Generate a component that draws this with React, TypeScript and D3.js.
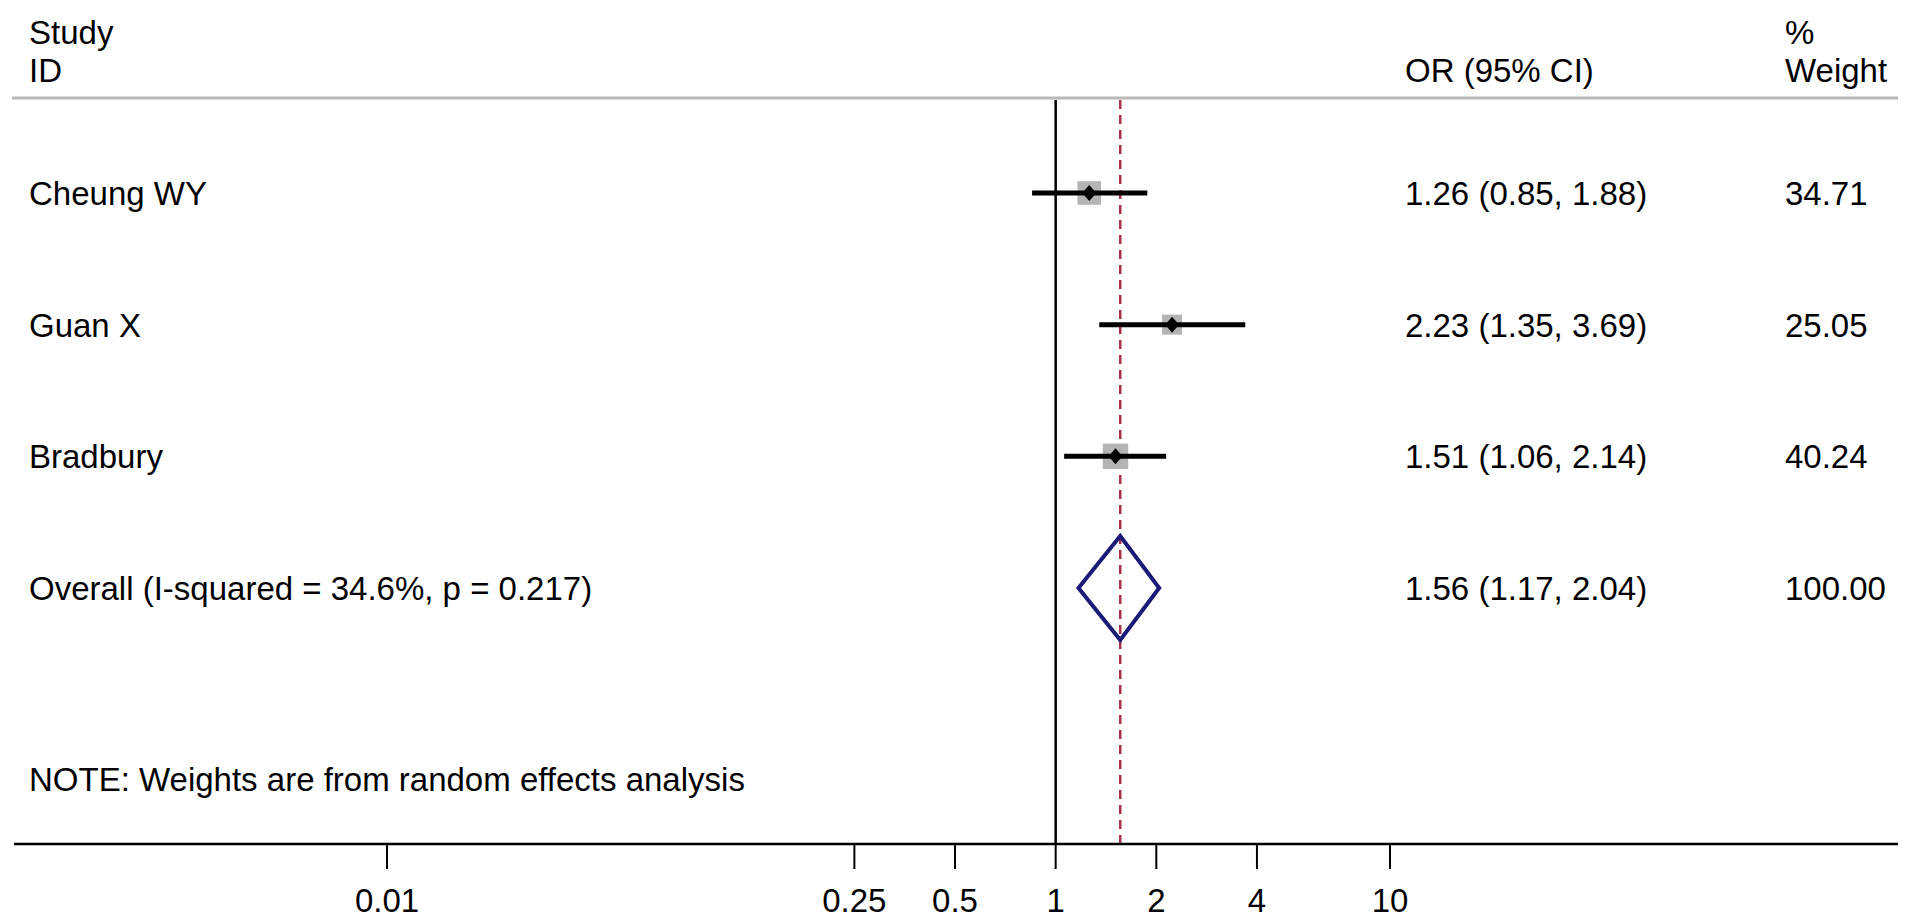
import { useEffect, useRef } from 'react'
import * as d3 from 'd3'

const studies = ['Cheung WY', 'Guan X', 'Bradbury']
const estimates = [1.26, 2.23, 1.51]
const lowers = [0.85, 1.35, 1.06]
const uppers = [1.88, 3.69, 2.14]
const weights = [34.71, 25.05, 40.24]

const overallLabel = 'Overall (I-squared = 34.6%, p = 0.217)'
const overall = { est: 1.56, lo: 1.17, hi: 2.04, weight: 100 }

const tickValues = [0.01, 0.25, 0.5, 1, 2, 4, 10]
const tickLabels = ['0.01', '0.25', '0.5', '1', '2', '4', '10']

const note = 'NOTE: Weights are from random effects analysis'

export default function App() {
  const svgRef = useRef<SVGSVGElement>(null)
  const W = 1913
  const H = 920

  useEffect(() => {
    const svg = svgRef.current
    if (!svg) return
    d3.select(svg).selectAll('*').remove()

    const font = '"Liberation Sans", Arial, Helvetica, sans-serif'
    const fs = 33
    const g = d3.select(svg).attr('width', W).attr('height', H)
      .style('font-family', font).style('font-size', `${fs}px`)

    const x = d3.scaleLog().domain([0.01, 10]).range([387, 1390])
    // row index -> vertical centre
    const y = d3.scaleLinear().domain([0, 3]).range([193, 588])

    const colText = 29
    const colEst = 1405
    const colWt = 1785
    const headerY = 98
    const axisY = 844
    const half = fs * 0.36

    // header
    g.append('text').attr('x', colText).attr('y', 44).text('Study')
    g.append('text').attr('x', colText).attr('y', 82).text('ID')
    g.append('text').attr('x', colEst).attr('y', 82).text('OR (95% CI)')
    g.append('text').attr('x', colWt).attr('y', 44).text('%')
    g.append('text').attr('x', colWt).attr('y', 82).text('Weight')
    g.append('line').attr('x1', 12).attr('x2', 1898).attr('y1', headerY).attr('y2', headerY)
      .attr('stroke', '#b8b8b8').attr('stroke-width', 3)

    // null line and overall line
    g.append('line').attr('x1', x(1)).attr('x2', x(1)).attr('y1', headerY + 2).attr('y2', axisY)
      .attr('stroke', '#000').attr('stroke-width', 2.5)
    g.append('line').attr('x1', x(overall.est)).attr('x2', x(overall.est))
      .attr('y1', headerY + 2).attr('y2', axisY)
      .attr('stroke', '#a8324a').attr('stroke-width', 2.5).attr('stroke-dasharray', '9,6')

    const fmt = d3.format('.2f')
    studies.forEach((name, i) => {
      const cy = y(i)
      const side = 4 * Math.sqrt(weights[i])
      g.append('rect')
        .attr('x', x(estimates[i]) - side / 2).attr('y', cy - side / 2)
        .attr('width', side).attr('height', side).attr('fill', '#b4b4b4')
      g.append('line').attr('x1', x(lowers[i])).attr('x2', x(uppers[i]))
        .attr('y1', cy).attr('y2', cy).attr('stroke', '#000').attr('stroke-width', 5)
      const px = x(estimates[i])
      g.append('path')
        .attr('d', `M${px},${cy - 8}L${px + 7},${cy}L${px},${cy + 8}L${px - 7},${cy}Z`)
        .attr('fill', '#000')
      g.append('text').attr('x', colText).attr('y', cy + half).text(name)
      g.append('text').attr('x', colEst).attr('y', cy + half)
        .text(`${fmt(estimates[i])} (${fmt(lowers[i])}, ${fmt(uppers[i])})`)
      g.append('text').attr('x', colWt).attr('y', cy + half).text(fmt(weights[i]))
    })

    // overall diamond
    const oy = y(3)
    const dh = 52
    g.append('path')
      .attr('d', `M${x(overall.lo)},${oy}L${x(overall.est)},${oy - dh}L${x(overall.hi)},${oy}L${x(overall.est)},${oy + dh}Z`)
      .attr('fill', 'none').attr('stroke', '#1a1a78').attr('stroke-width', 4)
    g.append('text').attr('x', colText).attr('y', oy + half).text(overallLabel)
    g.append('text').attr('x', colEst).attr('y', oy + half)
      .text(`${fmt(overall.est)} (${fmt(overall.lo)}, ${fmt(overall.hi)})`)
    g.append('text').attr('x', colWt).attr('y', oy + half).text(fmt(overall.weight))

    g.append('text').attr('x', colText).attr('y', y(4.45) + half).text(note)

    // axis
    g.append('line').attr('x1', 14).attr('x2', 1898).attr('y1', axisY).attr('y2', axisY)
      .attr('stroke', '#000').attr('stroke-width', 2.5)
    tickValues.forEach((t, i) => {
      g.append('line').attr('x1', x(t)).attr('x2', x(t)).attr('y1', axisY).attr('y2', axisY + 25)
        .attr('stroke', '#000').attr('stroke-width', 2)
      g.append('text').attr('x', x(t)).attr('y', 912).attr('text-anchor', 'middle').text(tickLabels[i])
    })
  }, [])

  return (
    <div style={{ position: 'absolute', left: 0, top: 0, background: '#fff' }}>
      <svg ref={svgRef} style={{ display: 'block' }} />
    </div>
  )
}
